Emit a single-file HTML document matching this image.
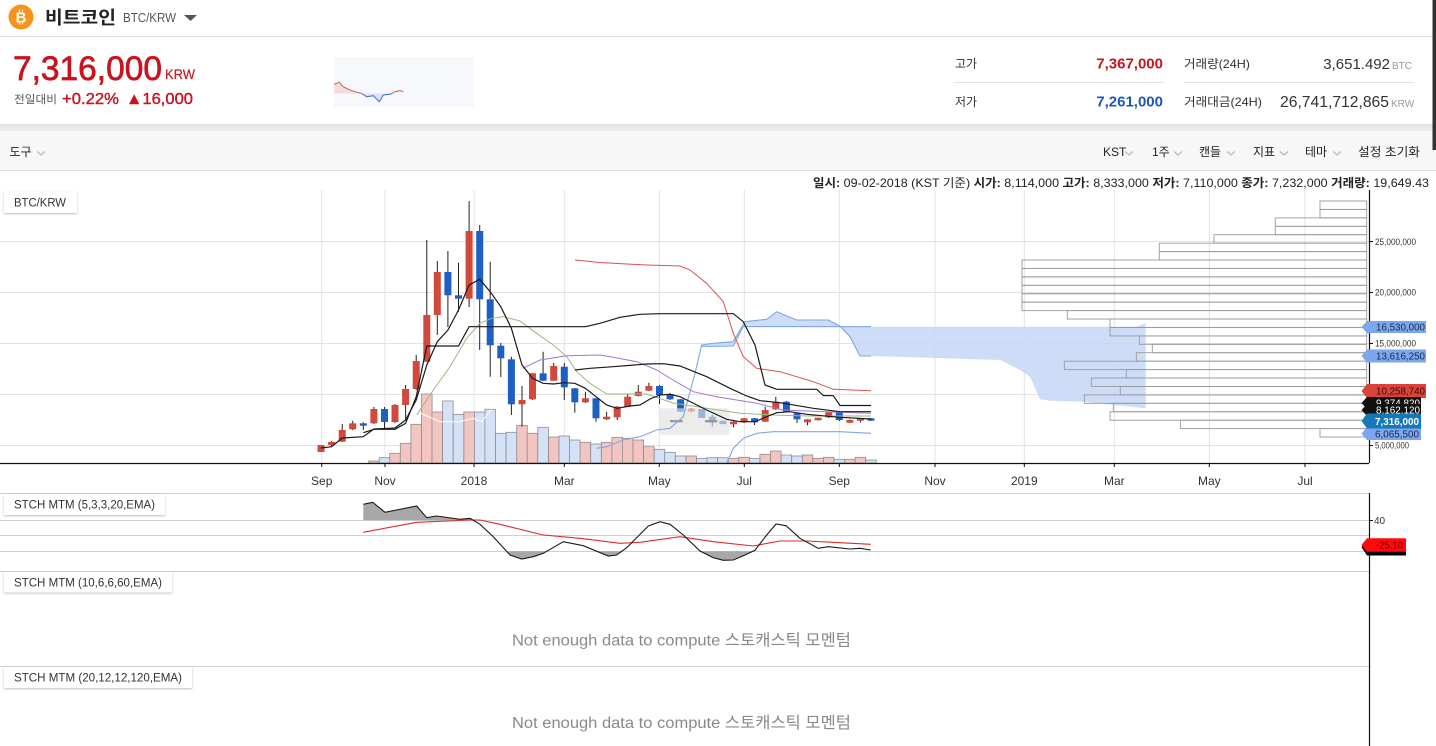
<!DOCTYPE html>
<html><head><meta charset="utf-8">
<style>
html,body{margin:0;padding:0;background:#fff;}
body{width:1436px;height:746px;overflow:hidden;position:relative;}
svg{position:absolute;left:0;top:0;}
text{font-family:"Liberation Sans","Noto Sans CJK KR",sans-serif;}
</style></head><body>
<svg width="1436" height="746" viewBox="0 0 1436 746" xmlns="http://www.w3.org/2000/svg">
<defs>
<filter id="ds" x="-10%" y="-30%" width="120%" height="170%"><feDropShadow dx="0" dy="1" stdDeviation="1" flood-color="#000" flood-opacity="0.25"/></filter>
<linearGradient id="sh" x1="0" y1="0" x2="0" y2="1"><stop offset="0" stop-color="#dfe1e6"/><stop offset="1" stop-color="#eceef1"/></linearGradient>
</defs>
<!-- HEADER -->
<rect x="0" y="0" width="1436" height="124" fill="#fff"/>
<line x1="0" y1="36.5" x2="1436" y2="36.5" stroke="#dedede"/>
<circle cx="21" cy="17" r="12.5" fill="#f7931a"/>
<text x="21" y="22.5" font-size="15" font-weight="bold" fill="#fff" text-anchor="middle">B</text>
<path d="M19.5 9.5v3M22.5 9.5v3M19.5 21.5v3M22.5 21.5v3" stroke="#fff" stroke-width="1.2"/>
<text x="45" y="24" font-size="18" font-weight="bold" fill="#222" textLength="71" lengthAdjust="spacingAndGlyphs">비트코인</text>
<text x="123" y="22" font-size="13" fill="#555" textLength="53" lengthAdjust="spacingAndGlyphs">BTC/KRW</text>
<polygon points="184,15 197,15 190.5,21" fill="#555"/>

<text x="13" y="80" font-size="34" fill="#c8141e" stroke="#c8141e" stroke-width="0.7" textLength="149" lengthAdjust="spacingAndGlyphs">7,316,000</text>
<text x="165" y="79" font-size="14" fill="#c8141e" stroke="#c8141e" stroke-width="0.2" textLength="30" lengthAdjust="spacingAndGlyphs">KRW</text>
<text x="14" y="103" font-size="11" fill="#555" textLength="43" lengthAdjust="spacingAndGlyphs">전일대비</text>
<text x="62" y="104" font-size="16" fill="#c8141e" stroke="#c8141e" stroke-width="0.4" textLength="57" lengthAdjust="spacingAndGlyphs">+0.22%</text>
<text x="126" y="104" font-size="16" fill="#c8141e" stroke="#c8141e" stroke-width="0.4" textLength="67" lengthAdjust="spacingAndGlyphs">▲16,000</text>

<rect x="334" y="57" width="140" height="50" fill="#f6f8fb"/>
<polygon points="334,93.5 334,84.3 339.3,82.3 343.3,86.7 348.3,89.3 355,91.7 361.7,93.5" fill="#f5dcdc"/>
<polygon points="361.7,93.5 366.7,96.7 373.3,95.7 379.3,101.7 383.3,95 390,94.3 392,93.5" fill="#dce5f5"/>
<polyline points="334,84.3 339.3,82.3 343.3,86.7 348.3,89.3 355,91.7 361.7,93.5" fill="none" stroke="#d0584e" stroke-width="1"/>
<polyline points="361.7,93.5 366.7,96.7 373.3,95.7 379.3,101.7 383.3,95 390,94.3 392,93.5" fill="none" stroke="#3d6fc4" stroke-width="1"/>
<polyline points="392,93.5 395,91.7 400,90.7 403.3,91.7" fill="none" stroke="#d0584e" stroke-width="1"/>

<text x="955" y="68" font-size="12" fill="#333">고가</text>
<text x="1163" y="68.5" font-size="15" font-weight="bold" fill="#c8141e" text-anchor="end">7,367,000</text>
<line x1="954" y1="82.5" x2="1164" y2="82.5" stroke="#e2e2e2"/>
<text x="955" y="106" font-size="12" fill="#333">저가</text>
<text x="1163" y="106.5" font-size="15" font-weight="bold" fill="#1d56c0" text-anchor="end">7,261,000</text>
<text x="1184" y="68" font-size="12" fill="#333" textLength="66" lengthAdjust="spacingAndGlyphs">거래량(24H)</text>
<text x="1390" y="69" font-size="15" fill="#333" text-anchor="end">3,651.492</text>
<text x="1392" y="69" font-size="10" fill="#999">BTC</text>
<line x1="1184" y1="82.5" x2="1414" y2="82.5" stroke="#e2e2e2"/>
<text x="1184" y="106" font-size="12" fill="#333" textLength="78" lengthAdjust="spacingAndGlyphs">거래대금(24H)</text>
<text x="1280" y="107" font-size="15.5" fill="#333" textLength="109" lengthAdjust="spacingAndGlyphs">26,741,712,865</text>
<text x="1391" y="107" font-size="10" fill="#999">KRW</text>

<rect x="0" y="124" width="1436" height="7" fill="url(#sh)"/>
<rect x="0" y="131" width="1436" height="39" fill="#f7f7f7"/>
<line x1="0" y1="170.5" x2="1436" y2="170.5" stroke="#dcdcdc"/>
<text x="9.5" y="156" font-size="12" fill="#222">도구</text>
<g fill="none" stroke="#aaa" stroke-width="1">
<polyline points="37,151.5 41,155 45,151.5"/>
<polyline points="1125,151.5 1129,155 1133,151.5"/>
<polyline points="1174,151.5 1178,155 1182,151.5"/>
<polyline points="1227,151.5 1231,155 1235,151.5"/>
<polyline points="1280,151.5 1284,155 1288,151.5"/>
<polyline points="1333,151.5 1337,155 1341,151.5"/>
</g>
<text x="1103" y="156" font-size="12" fill="#222">KST</text>
<text x="1152" y="156" font-size="12" fill="#222">1주</text>
<text x="1199" y="156" font-size="12" fill="#222">캔들</text>
<text x="1253" y="156" font-size="12" fill="#222">지표</text>
<text x="1305" y="156" font-size="12" fill="#222">테마</text>
<text x="1358" y="156" font-size="12" fill="#222" textLength="62" lengthAdjust="spacingAndGlyphs">설정 초기화</text>

<rect x="1432.5" y="0" width="3.5" height="150" fill="#333"/>

<text x="813" y="187" font-size="12" fill="#222" textLength="616" lengthAdjust="spacingAndGlyphs"><tspan font-weight="bold">일시:</tspan> 09-02-2018 (KST 기준) <tspan font-weight="bold">시가:</tspan> 8,114,000 <tspan font-weight="bold">고가:</tspan> 8,333,000 <tspan font-weight="bold">저가:</tspan> 7,110,000 <tspan font-weight="bold">종가:</tspan> 7,232,000 <tspan font-weight="bold">거래량:</tspan> 19,649.43</text>

<!-- MAIN GRID -->
<g stroke="#e3e3e3" stroke-width="1">
<path d="M321.7 190V463M385 190V463M474 190V463M564.3 190V463M659.3 190V463M744.3 190V463M839.3 190V463M935 190V463M1024.3 190V463M1114.3 190V463M1209.3 190V463M1305 190V463"/>
<path d="M0 241.5H1369M0 292.5H1369M0 343.5H1369M0 394.5H1369M0 445.5H1369"/>
</g>

<!-- VOLUME -->
<g stroke="#8e8e8e" stroke-width="0.8" fill="#f3c5c1">
<rect x="368.6" y="461" width="10.58" height="2"/>
<rect x="389.7" y="453.3" width="10.58" height="9.7"/>
<rect x="400.3" y="443.3" width="10.58" height="19.7"/>
<rect x="410.9" y="424.3" width="10.58" height="38.7"/>
<rect x="421.5" y="394" width="10.58" height="69"/>
<rect x="432.0" y="412" width="10.58" height="51"/>
<rect x="463.8" y="412" width="10.58" height="51"/>
<rect x="516.7" y="425.3" width="10.58" height="37.7"/>
<rect x="527.2" y="433.3" width="10.58" height="29.7"/>
<rect x="548.4" y="437" width="10.58" height="26"/>
<rect x="580.1" y="442.3" width="10.58" height="20.7"/>
<rect x="601.3" y="442.3" width="10.58" height="20.7"/>
<rect x="611.9" y="437.3" width="10.58" height="25.7"/>
<rect x="622.4" y="438.3" width="10.58" height="24.7"/>
<rect x="633.0" y="440" width="10.58" height="23"/>
<rect x="643.6" y="446.7" width="10.58" height="16.3"/>
<rect x="685.9" y="456" width="10.58" height="7"/>
<rect x="728.2" y="458.3" width="10.58" height="4.7"/>
<rect x="738.8" y="457.3" width="10.58" height="5.7"/>
<rect x="759.9" y="454.3" width="10.58" height="8.7"/>
<rect x="770.5" y="451" width="10.58" height="12"/>
<rect x="802.2" y="455" width="10.58" height="8"/>
<rect x="812.8" y="458.3" width="10.58" height="4.7"/>
<rect x="823.4" y="457.3" width="10.58" height="5.7"/>
<rect x="844.5" y="459.3" width="10.58" height="3.7"/>
<rect x="855.1" y="457.3" width="10.58" height="5.7"/>
</g>
<g stroke="#8e8e8e" stroke-width="0.8" fill="#d5e1f6">
<rect x="379.2" y="457.7" width="10.58" height="5.3"/>
<rect x="442.6" y="401" width="10.58" height="62"/>
<rect x="453.2" y="414.3" width="10.58" height="48.7"/>
<rect x="474.4" y="412" width="10.58" height="51"/>
<rect x="484.9" y="409.3" width="10.58" height="53.7"/>
<rect x="495.5" y="433.3" width="10.58" height="29.7"/>
<rect x="506.1" y="432.3" width="10.58" height="30.7"/>
<rect x="537.8" y="427.3" width="10.58" height="35.7"/>
<rect x="559.0" y="436" width="10.58" height="27"/>
<rect x="569.5" y="440" width="10.58" height="23"/>
<rect x="590.7" y="444" width="10.58" height="19"/>
<rect x="654.2" y="449.3" width="10.58" height="13.7"/>
<rect x="664.7" y="452.3" width="10.58" height="10.7"/>
<rect x="675.3" y="456" width="10.58" height="7"/>
<rect x="696.5" y="458.3" width="10.58" height="4.7"/>
<rect x="707.0" y="457.7" width="10.58" height="5.3"/>
<rect x="717.6" y="457.7" width="10.58" height="5.3"/>
<rect x="749.3" y="458.3" width="10.58" height="4.7"/>
<rect x="781.1" y="455" width="10.58" height="8"/>
<rect x="791.7" y="456" width="10.58" height="7"/>
<rect x="834.0" y="459.3" width="10.58" height="3.7"/>
<rect x="865.7" y="460" width="10.58" height="3"/>
</g>
<polyline points="420,413 440,421.7 460,421.7 473,418.3 481.7,421.7 491.7,409.3" fill="none" stroke="#fff" stroke-width="1.2" opacity="0.85"/>

<!-- CLOUD -->
<g fill="#c5d7f6" opacity="0.85">
<polygon points="701.7,345 713.3,343.3 733.3,341.7 745,321.7 766.7,319.3 776.7,311.7 796.7,320 828.3,320 840,326 850,336.7 860,356 871,356 871,326.7 743.3,326.5 733.3,346 701.7,346.5"/>
<polygon points="871,326.7 1136,326.7 1145.7,323.3 1145.7,408.3 1083,401.7 1050,400.7 1040,399.3 1030,376.7 1020,370 1000,360 871,356"/>
</g>

<!-- CANDLES -->
<path stroke="#222" stroke-width="1" fill="none" d="M321 445V452M331.6 441V446M342.2 424V442M352.7 420.7V430M363.3 422.3V430M373.9 407V424M384.5 407V429M395 404V423M405.6 385V420M416.2 355V390M426.8 240V362M437.3 261V335M447.9 251V327M458.5 262.7V311.7M469.1 201V307M479.7 225V350M490.2 261.7V376.7M500.8 343V377M511.4 356.7V415M522 386V426.7M532.5 373V400M543.1 351.7V381M553.7 363V381M564.3 363V400M574.8 388V412.7M585.4 391.7V403M596 398V421.7M606.6 411.7V420M617.2 406V420M627.7 394V407M638.3 385V396.5M648.9 382.7V391M659.5 385V404M670 393V400M680.6 399V412M691.2 408V412M701.8 409V418M712.3 415V426.7M722.9 420.5V424.5M733.5 421V427.3M744.1 418V423M754.6 418V425M765.2 406.7V422M775.8 396.7V410M786.4 401V412M797 413V423M807.5 419V425.3M818.1 417.5V420.5M828.7 412V418M839.3 412V421M849.8 419.5V423M860.4 418V422.5M871 418V421"/>
<g fill="#d0493c">
<rect x="317.5" y="445" width="7" height="7"/>
<rect x="328.1" y="442" width="7" height="3"/>
<rect x="338.7" y="430" width="7" height="11.7"/>
<rect x="349.2" y="423.3" width="7" height="6"/>
<rect x="370.4" y="409" width="7" height="14.3"/>
<rect x="391.5" y="405" width="7" height="17"/>
<rect x="402.1" y="389" width="7" height="16"/>
<rect x="412.7" y="361" width="7" height="28"/>
<rect x="423.3" y="315" width="7" height="46.7"/>
<rect x="433.8" y="272" width="7" height="43"/>
<rect x="465.6" y="231" width="7" height="67.7"/>
<rect x="518.5" y="400" width="7" height="4.3"/>
<rect x="529" y="373.3" width="7" height="26"/>
<rect x="550.2" y="366" width="7" height="14.7"/>
<rect x="581.9" y="398.3" width="7" height="4"/>
<rect x="603.1" y="416.7" width="7" height="2.6"/>
<rect x="613.7" y="406.7" width="7" height="10.6"/>
<rect x="624.2" y="396.7" width="7" height="10"/>
<rect x="634.8" y="391.7" width="7" height="4.3"/>
<rect x="645.4" y="386" width="7" height="4.7"/>
<rect x="687.7" y="408.5" width="7" height="3"/>
<rect x="730" y="421.7" width="7" height="2.6"/>
<rect x="740.6" y="418.3" width="7" height="4"/>
<rect x="761.7" y="410" width="7" height="11.7"/>
<rect x="772.3" y="401.7" width="7" height="7.6"/>
<rect x="804" y="419.3" width="7" height="3"/>
<rect x="814.6" y="417.7" width="7" height="2.6"/>
<rect x="825.2" y="412.3" width="7" height="5"/>
<rect x="846.3" y="420" width="7" height="2.7"/>
<rect x="856.9" y="418.3" width="7" height="2.4"/>
</g>
<g fill="#1e5fc4">
<rect x="359.8" y="423.3" width="7" height="2.4"/>
<rect x="381" y="409" width="7" height="13"/>
<rect x="444.4" y="272" width="7" height="23.3"/>
<rect x="455" y="295.3" width="7" height="3.4"/>
<rect x="476.2" y="231" width="7" height="68.3"/>
<rect x="486.7" y="299.3" width="7" height="46"/>
<rect x="497.3" y="345.7" width="7" height="12.6"/>
<rect x="507.9" y="359.3" width="7" height="45"/>
<rect x="539.6" y="373.3" width="7" height="7.4"/>
<rect x="560.8" y="366.7" width="7" height="20.6"/>
<rect x="571.3" y="388.3" width="7" height="14"/>
<rect x="592.5" y="398.3" width="7" height="20"/>
<rect x="656" y="386" width="7" height="9"/>
<rect x="666.5" y="394" width="7" height="5.3"/>
<rect x="677.1" y="399.3" width="7" height="12.4"/>
<rect x="698.3" y="409" width="7" height="9"/>
<rect x="708.8" y="416.7" width="7" height="6"/>
<rect x="719.4" y="420.7" width="7" height="3.3"/>
<rect x="751.1" y="418.3" width="7" height="4"/>
<rect x="782.9" y="401.7" width="7" height="10"/>
<rect x="793.5" y="413.3" width="7" height="6"/>
<rect x="835.8" y="412.3" width="7" height="7.7"/>
<rect x="867.5" y="418.3" width="7" height="2.4"/>
</g>
<rect x="659.3" y="408.3" width="70" height="26.7" rx="3" fill="#e2e2e2" opacity="0.65"/>
<rect x="670" y="420" width="12.7" height="2.3" fill="#999"/>
<rect x="705" y="420" width="12.3" height="2.3" fill="#999"/>

<!-- LINES -->
<g fill="none">
<polyline stroke="#7fa7e3" stroke-width="1.1" points="596.7,448.3 606.7,446.7 623.3,440 640,436.7 656.7,430 670,428.3 683.3,416.7 695,373.3 701.7,345 713.3,343.3 733.3,341.7 745,321.7 766.7,319.3 776.7,311.7 796.7,320 828.3,320 840,326 850,336.7 860,356 871,356"/>
<polyline stroke="#7fa7e3" stroke-width="1.1" points="701.7,346.5 733.3,346 743.3,326.5 871,326.7"/>
<polyline stroke="#7fa7e3" stroke-width="1.1" points="726.7,463 733.3,448.3 743.3,438.3 756.7,433.3 773.3,431.7 840,431.7 871,433.3"/>
<polyline stroke="#d9534f" stroke-width="1" points="575,260 600,262.5 613.3,263.3 646.7,265 680,266 690,270 706.7,283.3 723.3,301.7 733.3,333.3 743.3,356.7 756.7,368.3 780,371.7 813.3,381.7 833.3,389.3 871,390.7"/>
<polyline stroke="#9aba82" stroke-width="1" points="416.7,415 433.3,390 450,366.7 466.7,338.3 480,323.3 491.7,318.3 503.3,316.7 520,321 536.7,333.3 553.3,345 566.7,356.7 576.7,371.7 590,383.3 606.7,394 646.7,394 673,403 706.7,408.3 740,413.3 773,415 806.7,416 871,416"/>
<polyline stroke="#a478d2" stroke-width="1" points="522.7,368.3 540,360 566.7,355.7 600,355 613.3,357.3 636.7,361.7 656.7,370 673,380 693.3,391.7 716.7,396.7 756.7,403.3 783,410 840,412.3 871,413.3"/>
<polyline stroke="#1a1a1a" stroke-width="1.2" points="575,370 590,368.3 613.3,366.7 646.7,364 663.3,363.7 680,366 706.7,376.7 730,388.3 746.7,396 760,400.7 780,402.7 813.3,408.3 840,411.7 871,411.7"/>
<polyline stroke="#1a1a1a" stroke-width="1.2" points="363.3,432.7 373.9,429.3 395,429.3 405.6,423.3 416.2,396.7 426.8,346 458.5,346 469.1,326.7 585.4,326.7 600,323.3 620,317.3 640,314.3 660,313.7 733.3,313.7 743.3,321.7 755,345 765,385 776.7,389.3 816.7,389.3 823.3,395.5 833.3,395.7 840,405.5 871,405.5"/>
<polyline stroke="#1a1a1a" stroke-width="1.2" points="321,448 331.6,446.7 342.2,438 363.3,436.7 373.9,429 395,428 405.6,420 416.2,400 426.8,365 437.3,341.7 447.9,330 458.5,310 469.1,285 479.7,279.3 490.2,291.7 500.8,306.7 511.4,328.3 522,365 532.5,378.3 543.1,383.3 553.7,384 564.3,382.7 574.8,383.3 585.4,388.3 596,396.7 606.6,405 617.2,408.3 630,406 640,405 650,399 660,395 670,394.3 680,396.7 693,403 706.7,410 726.7,419.3 740,421.7 755,421.7 766.7,416.7 776.7,412.7 790,411.7 806.7,414.3 840,417.3 871,419"/>
</g>

<!-- VOLUME PROFILE -->
<g fill="none" stroke="#9a9a9a" stroke-width="0.9">
<rect x="1320" y="201" width="46.7" height="8.43"/>
<rect x="1320" y="209.4" width="46.7" height="8.43"/>
<rect x="1275.3" y="217.9" width="91.4" height="8.43"/>
<rect x="1275.3" y="226.3" width="91.4" height="8.43"/>
<rect x="1214" y="234.7" width="152.7" height="8.43"/>
<rect x="1159.3" y="243.2" width="207.4" height="8.43"/>
<rect x="1159.3" y="251.6" width="207.4" height="8.43"/>
<rect x="1022" y="260" width="344.7" height="8.43"/>
<rect x="1022" y="268.4" width="344.7" height="8.43"/>
<rect x="1022" y="276.9" width="344.7" height="8.43"/>
<rect x="1022" y="285.3" width="344.7" height="8.43"/>
<rect x="1022" y="293.7" width="344.7" height="8.43"/>
<rect x="1022" y="302.2" width="344.7" height="8.43"/>
<rect x="1067.3" y="310.6" width="299.4" height="8.43"/>
<rect x="1110" y="319" width="256.7" height="8.43"/>
<rect x="1110" y="327.5" width="256.7" height="8.43"/>
<rect x="1139.3" y="335.9" width="227.4" height="8.43"/>
<rect x="1152.3" y="344.3" width="214.4" height="8.43"/>
<rect x="1136.3" y="352.7" width="230.4" height="8.43"/>
<rect x="1064.3" y="361.2" width="302.4" height="8.43"/>
<rect x="1126.3" y="369.6" width="240.4" height="8.43"/>
<rect x="1091.3" y="378" width="275.4" height="8.43"/>
<rect x="1120.3" y="386.5" width="246.4" height="8.43"/>
<rect x="1084.3" y="394.9" width="282.4" height="8.43"/>
<rect x="1113.3" y="403.3" width="253.4" height="8.43"/>
<rect x="1110" y="411.8" width="256.7" height="8.43"/>
<rect x="1180.3" y="420.2" width="186.4" height="8.43"/>
<rect x="1320" y="428.6" width="46.7" height="8.43"/>
</g>

<!-- AXES -->
<line x1="0" y1="463.5" x2="1369" y2="463.5" stroke="#111" stroke-width="1.2"/>
<path d="M321.7 463V467M385 463V467M474 463V467M564.3 463V467M659.3 463V467M744.3 463V467M839.3 463V467M935 463V467M1024.3 463V467M1114.3 463V467M1209.3 463V467M1305 463V467" stroke="#111"/>
<line x1="1369.5" y1="190" x2="1369.5" y2="463" stroke="#111" stroke-width="1.2"/>
<path d="M1369 241.5H1373M1369 292.5H1373M1369 343.5H1373M1369 445.5H1373" stroke="#111"/>
<g font-size="12" fill="#333" text-anchor="middle">
<text x="321.7" y="485">Sep</text><text x="385" y="485">Nov</text><text x="474" y="485">2018</text><text x="564.3" y="485">Mar</text><text x="659.3" y="485">May</text><text x="744.3" y="485">Jul</text><text x="839.3" y="485">Sep</text><text x="935" y="485">Nov</text><text x="1024.3" y="485">2019</text><text x="1114.3" y="485">Mar</text><text x="1209.3" y="485">May</text><text x="1305" y="485">Jul</text>
</g>
<g font-size="9.5" fill="#333">
<text x="1375" y="245" textLength="41" lengthAdjust="spacingAndGlyphs">25,000,000</text>
<text x="1375" y="295.5" textLength="41" lengthAdjust="spacingAndGlyphs">20,000,000</text>
<text x="1375" y="346.5" textLength="41" lengthAdjust="spacingAndGlyphs">15,000,000</text>
<text x="1375" y="448.5" textLength="34" lengthAdjust="spacingAndGlyphs">5,000,000</text>
</g>

<!-- TAGS -->
<g font-size="10">
<polygon points="1361.5,327 1367,321 1426,321 1426,333 1367,333" fill="#7ca6ee"/>
<text x="1376" y="330.5" fill="#1b2b4b" textLength="49" lengthAdjust="spacingAndGlyphs">16,530,000</text>
<polygon points="1361.5,356 1367,349.5 1426,349.5 1426,362.5 1367,362.5" fill="#7ca6ee"/>
<text x="1376" y="359.5" fill="#1b2b4b" textLength="49" lengthAdjust="spacingAndGlyphs">13,616,250</text>
<polygon points="1361.5,391 1367,384 1426,384 1426,398 1367,398" fill="#d9433a"/>
<text x="1376" y="394.5" fill="#3a0a0a" textLength="49" lengthAdjust="spacingAndGlyphs">10,258,740</text>
<polygon points="1361.5,403 1367,397 1421,397 1421,409 1367,409" fill="#111"/>
<text x="1376" y="406.5" fill="#fff" textLength="44" lengthAdjust="spacingAndGlyphs">9,374,820</text>
<polygon points="1361.5,410 1367,404 1421,404 1421,416 1367,416" fill="#111"/>
<text x="1376" y="413.5" fill="#fff" textLength="44" lengthAdjust="spacingAndGlyphs">8,162,120</text>
<polygon points="1361.5,433.5 1367,427 1421,427 1421,440 1367,440" fill="#7ca6ee"/>
<text x="1375" y="437.5" fill="#1b2b4b" textLength="44" lengthAdjust="spacingAndGlyphs">6,065,500</text>
<polygon points="1361.5,421 1367,413.5 1421,413.5 1421,428.5 1367,428.5" fill="#1479b8"/>
<text x="1375" y="425" fill="#fff" font-weight="bold" textLength="44" lengthAdjust="spacingAndGlyphs">7,316,000</text>
</g>

<!-- BTC label -->
<rect x="4" y="192" width="73" height="21" fill="#fff" filter="url(#ds)"/>
<text x="14" y="206.5" font-size="11.5" fill="#333" textLength="52" lengthAdjust="spacingAndGlyphs">BTC/KRW</text>

<!-- LOWER PANELS -->
<path d="M0 493.5H1369M0 520.5H1369M0 535.5H1369M0 551.5H1369M0 571.5H1369M0 666.5H1369" stroke="#d0d0d0" stroke-width="1"/>
<line x1="1369.5" y1="493" x2="1369.5" y2="746" stroke="#111" stroke-width="1.2"/>
<line x1="1369" y1="520.5" x2="1373" y2="520.5" stroke="#111"/>
<text x="1374" y="524" font-size="10" fill="#333">40</text>

<g fill="#a8a8a8">
<polygon points="363.3,520.3 363.3,504.3 372.7,502.3 385,512.3 416.7,506 426.7,517.7 436.7,516 460,519.3 470,518.3 476,520.3"/>
<polygon points="506.6,551.3 510,555 521.7,559 533.3,556.7 543.3,553.3 546.8,551.3"/>
<polygon points="596.9,551.3 608.3,556 616.7,555 621.8,551.3"/>
<polygon points="700,551.3 713.3,557.7 723.3,560.3 733.3,560 743.3,555.7 754,551.3"/>
</g>
<polyline fill="none" stroke="#e02a2a" stroke-width="1.1" points="363.3,532.3 416.7,522.3 470,520 480,520 500,524.3 543.3,535 580,538.3 620,543.3 640,542.3 680,536.7 713.3,541.7 753.3,546 780,541 806.7,541 833.3,542.3 870.7,544.3"/>
<polyline fill="none" stroke="#1a1a1a" stroke-width="1.1" points="363.3,504.3 372.7,502.3 385,512.3 416.7,506 426.7,517.7 436.7,516 460,519.3 470,518.3 480,524.3 493.3,536.7 510,555 521.7,559 533.3,556.7 543.3,553.3 563.3,541.7 583.3,545.7 608.3,556 616.7,555 626.7,547.7 648.3,526 660,521.7 670,524.3 683.3,535 700,551 713.3,557.7 723.3,560.3 733.3,560 743.3,555.7 755,550.3 766.7,535 776,524 786,525.7 800,538.3 818.3,548.3 828.3,546.7 850,549 860,548.3 870.7,550"/>

<polygon points="1361.5,547 1367,540.5 1406,540.5 1406,555.5 1367,555.5" fill="#000"/>
<polygon points="1361.5,545 1367,538.3 1406,538.3 1406,551.7 1367,551.7" fill="#ff0a0a"/>
<text x="1376" y="548.5" font-size="10" fill="#700" textLength="27" lengthAdjust="spacingAndGlyphs">-25.10</text>

<rect x="4" y="494" width="161" height="21" fill="#fff" filter="url(#ds)"/>
<text x="14" y="508.5" font-size="11.5" fill="#333" textLength="141" lengthAdjust="spacingAndGlyphs">STCH MTM (5,3,3,20,EMA)</text>
<rect x="4" y="572" width="168" height="20.5" fill="#fff" filter="url(#ds)"/>
<text x="14" y="586.5" font-size="11.5" fill="#333" textLength="148" lengthAdjust="spacingAndGlyphs">STCH MTM (10,6,6,60,EMA)</text>
<rect x="4" y="667" width="188" height="21" fill="#fff" filter="url(#ds)"/>
<text x="14" y="681.5" font-size="11.5" fill="#333" textLength="168" lengthAdjust="spacingAndGlyphs">STCH MTM (20,12,12,120,EMA)</text>

<text x="681.5" y="645.5" font-size="16" fill="#8a8a8a" text-anchor="middle" textLength="339" lengthAdjust="spacingAndGlyphs">Not enough data to compute 스토캐스틱 모멘텀</text>
<text x="681.5" y="728" font-size="16" fill="#8a8a8a" text-anchor="middle" textLength="339" lengthAdjust="spacingAndGlyphs">Not enough data to compute 스토캐스틱 모멘텀</text>
</svg>
</body></html>
